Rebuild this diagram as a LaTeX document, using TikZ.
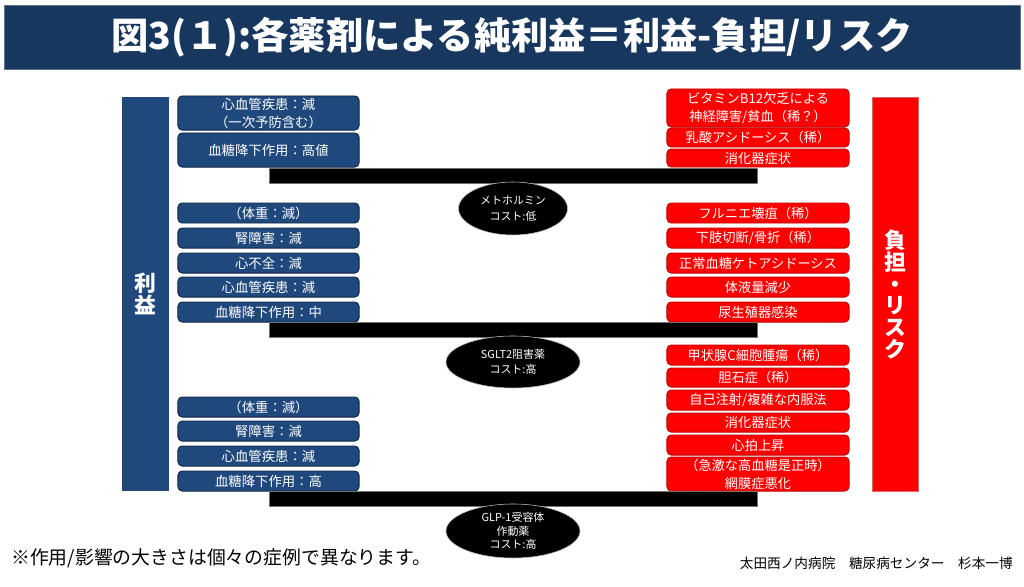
\documentclass[tikz,border=0pt]{standalone}
\usepackage{fontspec}
\setmainfont{Noto Sans CJK JP}
\usetikzlibrary{shapes.geometric, positioning}
\definecolor{TitleNavy}{RGB}{23,55,94}
\definecolor{MeritBlue}{RGB}{31,73,125}
\definecolor{MeritEdge}{RGB}{16,38,66}
\definecolor{RiskRed}{RGB}{255,0,0}
\definecolor{RiskEdge}{RGB}{192,0,0}

\begin{document}
\begin{tikzpicture}[x=0.025cm, y=-0.025cm,
      merit/.style={draw=MeritEdge, fill=MeritBlue, rounded corners=3pt,
                    minimum width=4.525cm, minimum height=0.5cm, line width=0.7pt,
                    align=center, text=white, inner sep=0pt,
                    font=\fontsize{9.5}{12.8}\selectfont},
      risk/.style={draw=RiskEdge, fill=RiskRed, rounded corners=3pt,
                   minimum width=4.55cm, minimum height=0.5cm, line width=0.7pt,
                   align=center, text=white, inner sep=0pt,
                   font=\fontsize{9.4}{12.8}\selectfont},
      drugbar/.style={draw=black!55, fill=black, minimum width=12.2cm,
                      minimum height=0.375cm, inner sep=0pt},
      drug/.style={ellipse, draw=black!25, fill=black, text=white, align=center,
                   inner sep=0pt, font=\fontsize{7.8}{11}\selectfont},
      sidebar/.style={minimum width=1.175cm, minimum height=9.85cm, inner sep=0pt,
                      align=center, text=white,
                      font=\fontsize{15.5}{16}\selectfont\bfseries}
    ]
      \useasboundingbox[fill=white] (0,0) rectangle (1024,586);

      % title
      \node[draw=TitleNavy!70, fill=TitleNavy, minimum width=25.4cm, minimum height=1.6cm,
            text=white, font=\fontsize{26.5}{28}\selectfont\bfseries] (title) at (512,37)
            {図3(１):各薬剤による純利益＝利益-負担/リスク};

      % side bars
      \node[sidebar, fill=MeritBlue] (merit) at (145.5,294) {利\\益};
      \node[sidebar, fill=RiskRed, draw=RiskEdge!60, minimum width=1.15cm,
            font=\fontsize{15.5}{15.6}\selectfont\bfseries] (risk) at (895,294.5)
            {負\\担\\・\\リ\\ス\\ク};

      % metformin
      \node[merit, minimum height=0.85cm] (m1) at (268.5,113) {心血管疾患：減\\（一次予防含む）};
      \node[merit, minimum height=0.85cm] (m2) at (268.5,150) {血糖降下作用：高値};
      \node[risk, minimum height=0.95cm] (r1) at (758,108) {ビタミンB12欠乏による\\神経障害/貧血（稀？）};
      \node[risk, minimum height=0.475cm] (r2) at (758,137.5) {乳酸アシドーシス（稀）};
      \node[risk, minimum height=0.45cm] (r3) at (758,158) {消化器症状};
      \node[drugbar] (bar1) at (513,175.5) {};
      \node[drug, minimum width=2.725cm, minimum height=1.325cm] (met) at (513,208.5) {メトホルミン\\コスト:低};

      % SGLT2
      \node[merit] (m3) at (268.5,213) {（体重：減）};
      \node[merit] (m4) at (268.5,238) {腎障害：減};
      \node[merit] (m5) at (268.5,263) {心不全：減};
      \node[merit] (m6) at (268.5,287) {心血管疾患：減};
      \node[merit] (m7) at (268.5,312) {血糖降下作用：中};
      \node[risk] (r4) at (758,213) {フルニエ壊疽（稀）};
      \node[risk] (r5) at (758,238) {下肢切断/骨折（稀）};
      \node[risk] (r6) at (758,263) {正常血糖ケトアシドーシス};
      \node[risk] (r7) at (758,287) {体液量減少};
      \node[risk] (r8) at (758,312) {尿生殖器感染};
      \node[drugbar] (bar2) at (513,329.5) {};
      \node[drug, minimum width=3.35cm, minimum height=1.3cm] (sglt) at (513,362) {SGLT2阻害薬\\コスト:高};

      % GLP-1
      \node[merit] (m8) at (268.5,407) {（体重：減）};
      \node[merit] (m9) at (268.5,431) {腎障害：減};
      \node[merit] (m10) at (268.5,456) {心血管疾患：減};
      \node[merit] (m11) at (268.5,481) {血糖降下作用：高};
      \node[risk] (r9) at (758,355) {甲状腺C細胞腫瘍（稀）};
      \node[risk, minimum height=0.475cm] (r10) at (758,377.5) {胆石症（稀）};
      \node[risk] (r11) at (758,400) {自己注射/複雑な内服法};
      \node[risk, minimum height=0.475cm] (r12) at (758,422.5) {消化器症状};
      \node[risk] (r13) at (758,445) {心拍上昇};
      \node[risk, minimum height=0.85cm] (r14) at (758,474) {（急激な高血糖是正時）\\網膜症悪化};
      \node[drugbar] (bar3) at (513,499) {};
      \node[drug, minimum width=3.35cm, minimum height=1.35cm,
            font=\fontsize{7.8}{9.8}\selectfont] (glp) at (513,531) {GLP-1受容体\\作動薬\\コスト:高};

      % footer
      \node[anchor=west, font=\fontsize{13.4}{16}\selectfont, inner sep=0pt] (note) at (11,558)
            {※作用/影響の大きさは個々の症例で異なります。};
      \node[anchor=east, font=\fontsize{9.7}{12}\selectfont, inner sep=0pt] (author) at (1013,563)
            {太田西ノ内病院\quad 糖尿病センター\quad 杉本一博};
\end{tikzpicture}
\end{document}
